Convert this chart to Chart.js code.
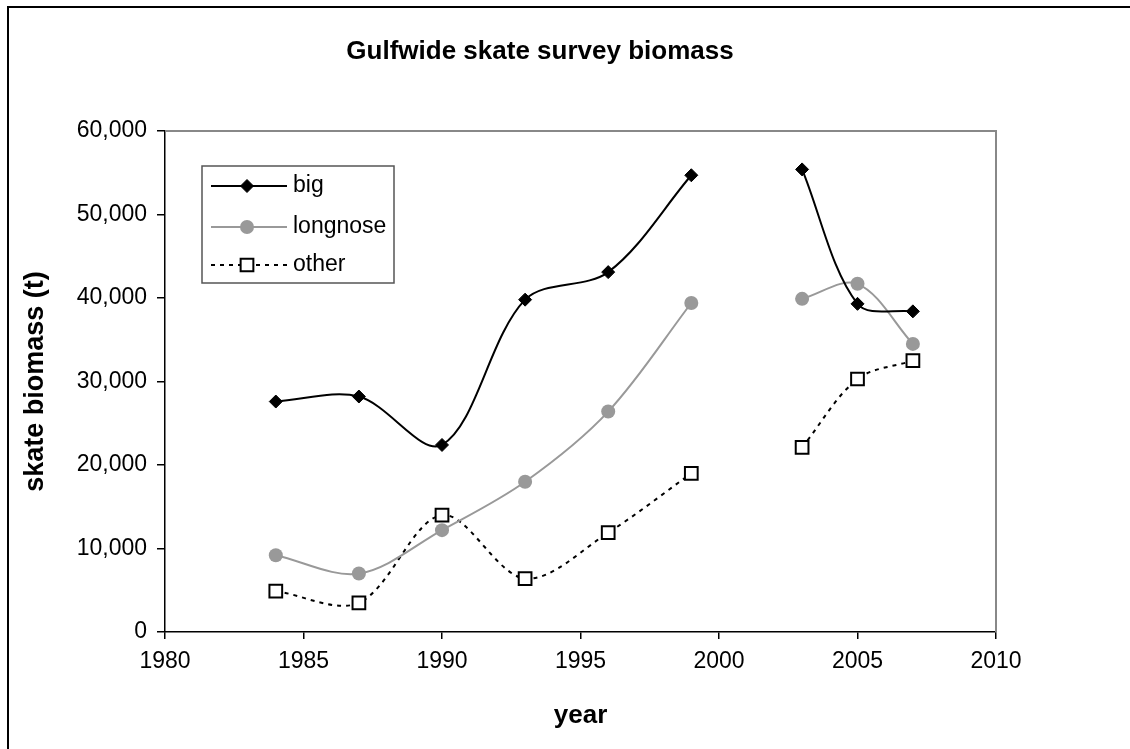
<!DOCTYPE html>
<html>
<head>
<meta charset="utf-8">
<title>Gulfwide skate survey biomass</title>
<script src="https://cdn.jsdelivr.net/npm/chart.js@4.4.1/dist/chart.umd.min.js"></script>
<style>
  html, body { margin: 0; padding: 0; background: #fff; }
</style>
</head>
<body>
<canvas id="biomassChart" width="1130" height="749"></canvas>
<script>
// survey years; 2001 has no survey, the null breaks the lines
const years = [1984, 1987, 1990, 1993, 1996, 1999, 2001, 2003, 2005, 2007];
const bigSkate = [27600, 28200, 22400, 39800, 43100, 54700, null, 55400, 39300, 38400];
const longnoseSkate = [9200, 7000, 12200, 18000, 26400, 39400, null, 39900, 41700, 34500];
const otherSkate = [4900, 3500, 14000, 6400, 11900, 19000, null, 22100, 30300, 32500];
const seriesNames = ['big', 'longnose', 'other'];
const yearTicks = [1980, 1985, 1990, 1995, 2000, 2005, 2010];
const biomassTicks = [0, 10000, 20000, 30000, 40000, 50000, 60000];
const chartTitle = 'Gulfwide skate survey biomass';

const FONT = "'Liberation Sans', Arial, sans-serif";

function toPoints(values) {
    return years.map((yr, i) => ({ x: yr, y: values[i] }));
}

const datasets = [
    {
        label: seriesNames[0],
        data: toPoints(bigSkate),
        borderColor: '#000',
        borderWidth: 2,
        pointStyle: 'rectRot',
        pointRadius: 6.5,
        pointBackgroundColor: '#000',
        pointBorderColor: '#000',
        pointBorderWidth: 1,
    },
    {
        label: seriesNames[1],
        data: toPoints(longnoseSkate),
        borderColor: '#999',
        borderWidth: 2,
        pointStyle: 'circle',
        pointRadius: 7,
        pointBackgroundColor: '#999',
        pointBorderColor: '#999',
        pointBorderWidth: 0,
    },
    {
        label: seriesNames[2],
        data: toPoints(otherSkate),
        borderColor: '#000',
        borderWidth: 2,
        borderDash: [4, 5],
        pointStyle: 'rect',
        pointRadius: 9,
        pointBackgroundColor: '#fff',
        pointBorderColor: '#000',
        pointBorderWidth: 2,
    },
];

// gray plot frame, black outer frame and the chart title
const framePlugin = {
    id: 'frames',
    beforeDatasetsDraw(chart) {
        const { ctx, chartArea: a } = chart;
        ctx.save();
        ctx.strokeStyle = '#888';
        ctx.lineWidth = 2;
        ctx.beginPath();
        ctx.moveTo(a.left, a.top);
        ctx.lineTo(a.right, a.top);
        ctx.lineTo(a.right, a.bottom);
        ctx.stroke();
        ctx.restore();
    },
    afterDraw(chart) {
        const ctx = chart.ctx;
        ctx.save();
        ctx.strokeStyle = '#000';
        ctx.lineWidth = 2;
        ctx.strokeRect(8, 7, 1140, 760);
        ctx.fillStyle = '#000';
        ctx.font = 'bold 26px ' + FONT;
        ctx.textAlign = 'center';
        ctx.textBaseline = 'middle';
        ctx.fillText(chartTitle, 540, 52);
        ctx.restore();
    }
};

// legend box inside the plot, top-left
const boxLegend = {
    id: 'boxLegend',
    afterDatasetsDraw(chart) {
        const ctx = chart.ctx;
        const box = { x: 202, y: 166, w: 192, h: 117 };
        const rows = [186, 227, 265];
        ctx.save();
        ctx.fillStyle = '#fff';
        ctx.fillRect(box.x, box.y, box.w, box.h);
        ctx.strokeStyle = '#555';
        ctx.lineWidth = 1.5;
        ctx.strokeRect(box.x, box.y, box.w, box.h);
        chart.data.datasets.forEach((ds, i) => {
            const y = rows[i];
            ctx.save();
            ctx.strokeStyle = ds.borderColor;
            ctx.lineWidth = ds.borderWidth;
            ctx.setLineDash(ds.borderDash || []);
            ctx.beginPath();
            ctx.moveTo(211, y);
            ctx.lineTo(287, y);
            ctx.stroke();
            ctx.restore();
            ctx.save();
            ctx.fillStyle = ds.pointBackgroundColor;
            ctx.strokeStyle = ds.pointBorderColor;
            ctx.lineWidth = ds.pointBorderWidth;
            Chart.helpers.drawPoint(ctx, {
                pointStyle: ds.pointStyle,
                radius: ds.pointRadius,
                borderWidth: ds.pointBorderWidth,
                rotation: 0
            }, 247, y);
            ctx.restore();
            ctx.fillStyle = '#000';
            ctx.font = '23px ' + FONT;
            ctx.textBaseline = 'middle';
            ctx.textAlign = 'left';
            ctx.fillText(ds.label, 293, y);
        });
        ctx.restore();
    }
};

new Chart(document.getElementById('biomassChart'), {
    type: 'line',
    data: { datasets: datasets },
    options: {
        responsive: false,
        animation: false,
        devicePixelRatio: 1,
        layout: { padding: { top: 131, left: 0, right: 0, bottom: 0 } },
        elements: { line: { tension: 0.33, fill: false } },
        spanGaps: false,
        plugins: {
            legend: { display: false },
            tooltip: { enabled: false },
            title: { display: false }
        },
        scales: {
            x: {
                type: 'linear',
                min: yearTicks[0],
                max: yearTicks[yearTicks.length - 1],
                afterBuildTicks: s => { s.ticks = yearTicks.map(v => ({ value: v })); },
                afterFit: s => { s.height = 117; },
                grid: { display: true, drawOnChartArea: false, drawTicks: true, tickLength: 7, color: '#000', lineWidth: 1.5 },
                border: { display: true, color: '#000', width: 1.5 },
                ticks: {
                    color: '#000',
                    padding: 9,
                    maxRotation: 0,
                    font: { family: FONT, size: 23 },
                    callback: v => String(v)
                },
                title: {
                    display: true,
                    text: 'year',
                    color: '#000',
                    font: { family: FONT, size: 26, weight: 'bold', lineHeight: 1.2 },
                    padding: { top: 0, bottom: 18 }
                }
            },
            y: {
                min: biomassTicks[0],
                max: biomassTicks[biomassTicks.length - 1],
                afterBuildTicks: s => { s.ticks = biomassTicks.map(v => ({ value: v })); },
                afterFit: s => { s.width = 165; },
                grid: { display: true, drawOnChartArea: false, drawTicks: true, tickLength: 8, color: '#000', lineWidth: 1.5 },
                border: { display: true, color: '#000', width: 1.5 },
                ticks: {
                    color: '#000',
                    padding: 10,
                    font: { family: FONT, size: 23 },
                    callback: v => v.toLocaleString('en-US')
                },
                title: {
                    display: true,
                    text: 'skate biomass (t)',
                    color: '#000',
                    font: { family: FONT, size: 27, weight: 'bold', lineHeight: 1.2 },
                    padding: { top: 19, bottom: 0 }
                }
            },
            // empty right-hand axis that only reserves the margin right of the plot
            yRight: {
                position: 'right',
                display: true,
                min: biomassTicks[0],
                max: biomassTicks[biomassTicks.length - 1],
                afterFit: s => { s.width = 134; },
                grid: { display: false, drawTicks: false },
                border: { display: false },
                ticks: { display: false }
            }
        }
    },
    plugins: [framePlugin, boxLegend]
});
</script>
</body>
</html>
